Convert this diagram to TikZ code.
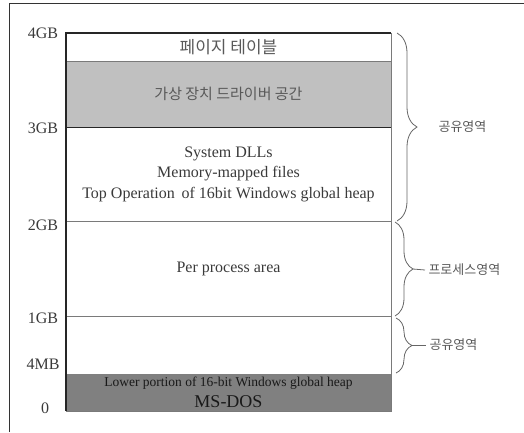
\documentclass[tikz,border=0pt]{standalone}
\usepackage{fontspec}
\setmainfont{Liberation Serif}
\newfontfamily\kor{Noto Sans CJK KR}
\usetikzlibrary{decorations.pathreplacing}
\definecolor{devgray}{HTML}{C0C0C0}
\definecolor{dosgray}{HTML}{808080}
\definecolor{linegray}{HTML}{7A7A7A}
\definecolor{inkgray}{HTML}{3A3A3A}

\begin{document}
\begin{tikzpicture}[x=1pt, y=-1pt,
        region/.style={minimum width=325pt, inner sep=0pt, align=center, text=inkgray},
        addr/.style={font=\fontsize{16}{18}\selectfont, text=inkgray},
        krtext/.style={font=\kor\fontsize{13}{15}\selectfont, text=black!65},
        sep/.style={draw=linegray, line width=0.9pt},
        bold/.style={draw=black!85, line width=1.4pt},
        curly/.style={decorate, draw=black!60, line width=0.8pt}]
    \useasboundingbox (0,0) rectangle (524,432);
    % outer frame
    \draw[black!80, line width=0.8pt] (9,432) -- (9,3) -- (524,3);

    % memory regions
    \node[region, minimum height=28pt, text=black!65, font=\kor\fontsize{17}{19}\selectfont] (ptab) at (228.5,47) {페이지 테이블};
    \node[region, minimum height=66pt, fill=devgray, text=black!65, font=\kor\fontsize{15}{17}\selectfont] (vxd) at (228.5,94) {가상 장치 드라이버 공간};
    \node[region, minimum height=94pt, font=\fontsize{16}{20.5}\selectfont] (sys) at (228.5,174) {System DLLs\\Memory-mapped files\\Top Operation\, of 16bit Windows global heap};
    \node[region, minimum height=95pt, font=\fontsize{16}{18}\selectfont] (proc) at (228.5,268.5) {Per process area};
    \node[region, minimum height=58pt] (low) at (228.5,345) {};
    \node[region, minimum height=37pt, fill=dosgray, text=black!90, font=\fontsize{13.5}{21}\selectfont] (dos) at (228.5,392.5) {Lower portion of 16-bit Windows global heap\\{\fontsize{18}{21}\selectfont MS-DOS}};

    % borders
    \draw[sep] (ptab.north east) -- (dos.south east) -- (dos.south west);
    \draw[sep] (ptab.south west) -- (ptab.south east);
    \draw[sep] (sys.south west) -- (sys.south east);
    \draw[sep] (proc.south west) -- (proc.south east);
    \draw[bold] (vxd.south west) -- (vxd.south east);
    \draw[bold] (dos.south west) -- (ptab.north west) -- (ptab.north east);

    % addresses
    \node[addr] (a4g) at (43,33) {4GB};
    \node[addr] (a3g) at (43,128) {3GB};
    \node[addr] (a2g) at (43,225) {2GB};
    \node[addr] (a1g) at (43,318) {1GB};
    \node[addr] (a4m) at (43,364) {4MB};
    \node[addr] (a0) at (45,408) {0};

    % braces
    \coordinate (c1t) at (397,33);
    \coordinate (c1b) at (397,221);
    \coordinate (c2t) at (395,222);
    \coordinate (c2b) at (395,316);
    \coordinate (c3t) at (396,318);
    \coordinate (c3b) at (396,373);
    \draw[curly, decoration={brace, amplitude=20pt}] (c1t) -- (c1b);
    \draw[curly, decoration={brace, amplitude=18pt}] (c2t) -- (c2b);
    \draw[curly, decoration={brace, amplitude=16pt}] (c3t) -- (c3b);
    \coordinate (t2) at (413,269);
    \coordinate (t3) at (412,345);

    \node[krtext, anchor=west] (shr1) at (435,127) {공유영역};
    \node[krtext, anchor=west] (prc) at (425,270) {프로세스영역};
    \node[krtext, anchor=west] (shr2) at (426,345) {공유영역};
    \draw[black!60, line width=0.8pt] (t2) -- (prc.west);
    \draw[black!60, line width=0.8pt] (t3) -- (shr2.west);
\end{tikzpicture}
\end{document}
